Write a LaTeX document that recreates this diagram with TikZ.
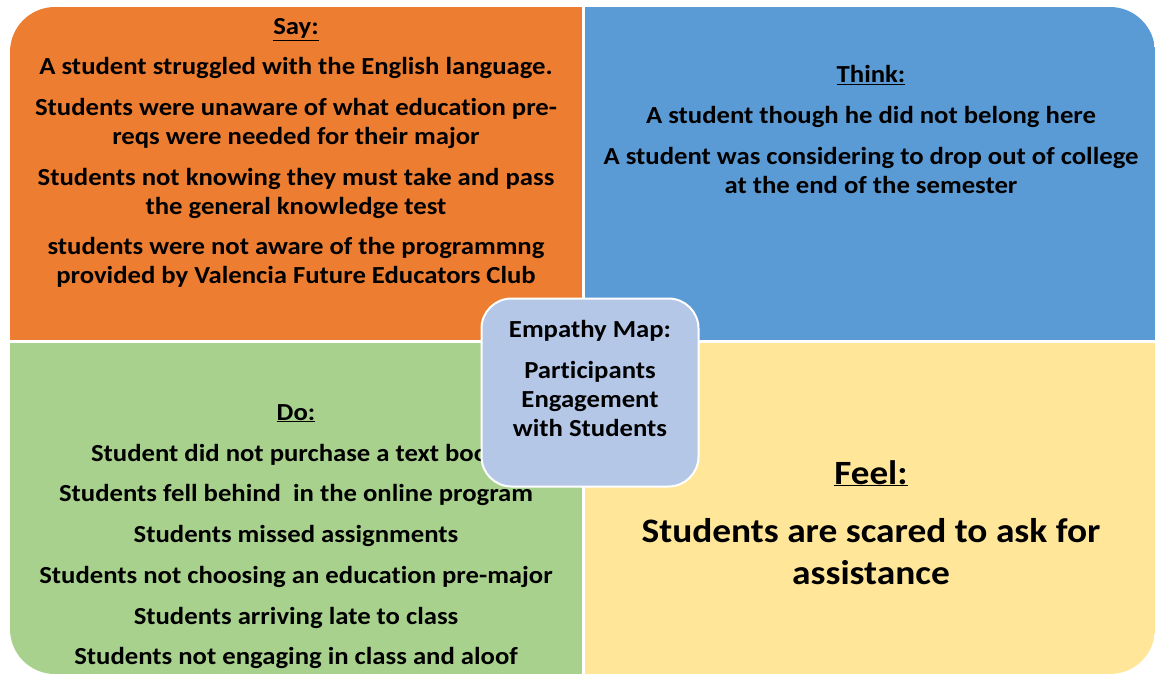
\documentclass[tikz,border=0pt]{standalone}
\usepackage{fontspec}
\setmainfont{Carlito}[FakeStretch=1.09, Ligatures=NoCommon]
\definecolor{qorange}{HTML}{ED7D31}
\definecolor{qblue}{HTML}{5B9BD5}
\definecolor{qgreen}{HTML}{A9D18E}
\definecolor{qyellow}{HTML}{FFE699}
\definecolor{qcenter}{HTML}{B4C7E7}
\tikzset{
  txt/.style={anchor=base, inner sep=0pt, font=\fontsize{24.5}{28}\selectfont\bfseries},
  bigtxt/.style={anchor=base, inner sep=0pt, font=\fontsize{34.3}{38}\selectfont\bfseries},
  titletxt/.style={anchor=base, inner sep=0pt, font=\fontsize{34}{38}\selectfont\bfseries},
}
\begin{document}
\begin{tikzpicture}[x=1pt,y=-1pt]
\useasboundingbox (0,0) rectangle (1155,674);
\begin{scope}
  \clip[rounded corners=45pt] (10,7) rectangle (1155,674);
  \fill[qorange] (10,7) rectangle (582,340);
  \fill[qblue] (585,7) rectangle (1155,340);
  \fill[qgreen] (10,343) rectangle (582,674);
  \fill[qyellow] (585,343) rectangle (1155,674);
\end{scope}
% Say
\node[txt] (saytitle) at (296,35) {\underline{Say:}};
\node[txt] (say1) at (296,75) {A student struggled with the English language.};
\node[txt] (say2a) at (296,115) {Students were unaware of what education pre-};
\node[txt] (say2b) at (296,144) {reqs were needed for their major};
\node[txt] (say3a) at (296,185) {Students not knowing they must take and pass};
\node[txt] (say3b) at (296,214) {the general knowledge test};
\node[txt] (say4a) at (296,254) {students were not aware of the programmng};
\node[txt] (say4b) at (296,283) {provided by Valencia Future Educators Club};
% Think
\node[txt] (thinktitle) at (871,83) {\underline{Think:}};
\node[txt] (think1) at (871,124) {A student though he did not belong here};
\node[txt] (think2a) at (871,164) {A student was considering to drop out of college};
\node[txt] (think2b) at (871,193) {at the end of the semester};
% Do
\node[txt] (dotitle) at (296,420) {\underline{Do:}};
\node[txt] (do1) at (296,461) {Student did not purchase a text book};
\node[txt] (do2) at (296,501) {Students fell behind\ \ in the online program};
\node[txt] (do3) at (296,542) {Students missed assignments};
\node[txt] (do4) at (296,583) {Students not choosing an education pre-major};
\node[txt] (do5) at (296,624) {Students arriving late to class};
\node[txt] (do6) at (296,664) {Students not engaging in class and aloof};
% Feel
\node[titletxt] (feeltitle) at (871,484) {\underline{Feel:}};
\node[bigtxt] (feel1a) at (871,542) {Students are scared to ask for};
\node[bigtxt] (feel1b) at (871,584) {assistance};
% Center
\node[draw=white, line width=2pt, fill=qcenter, rounded corners=30pt,
      minimum width=217pt, minimum height=188pt, inner sep=0pt] (center) at (590,392.5) {};
\node[txt] (emp1) at (590,337) {Empathy Map:};
\node[txt] (emp2) at (590,378) {Participants};
\node[txt] (emp3) at (590,407) {Engagement};
\node[txt] (emp4) at (590,436) {with Students};
\end{tikzpicture}
\end{document}
